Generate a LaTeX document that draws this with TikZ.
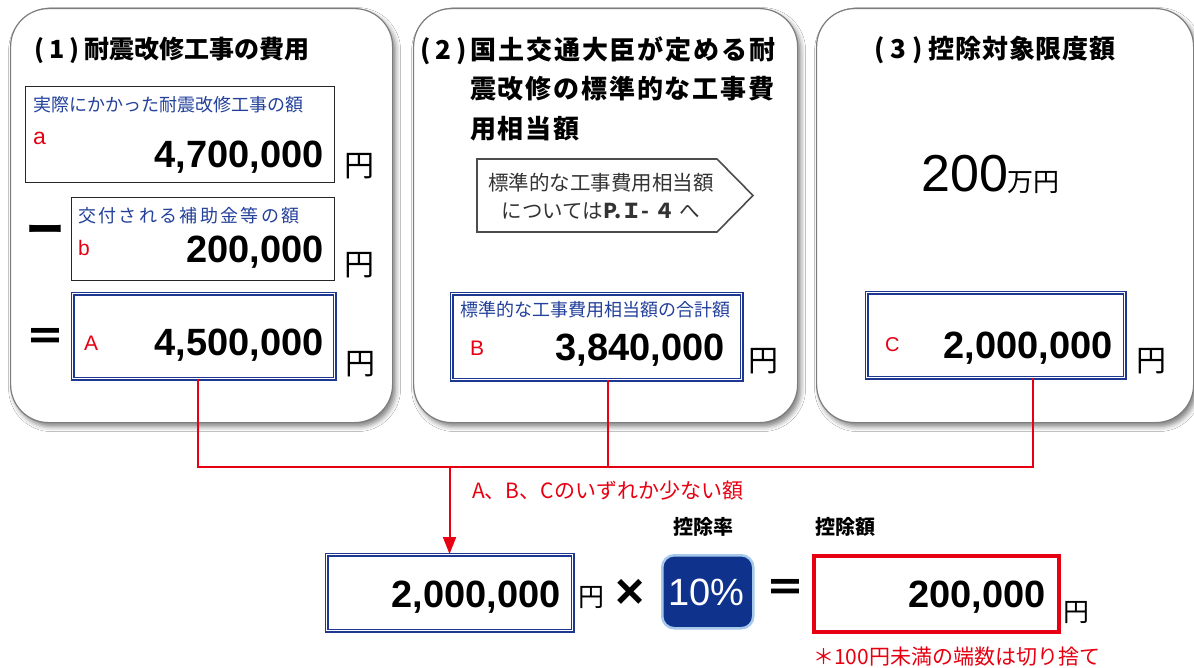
\documentclass[tikz,border=0pt]{standalone}
\usepackage{fontspec}
\setmainfont{Liberation Sans}
\newfontfamily\jp{Noto Sans CJK JP}
\usetikzlibrary{arrows.meta,shadows.blur,calc}
\definecolor{jblue}{RGB}{35,65,155}
\definecolor{bblue}{RGB}{30,55,145}
\definecolor{jred}{RGB}{230,0,18}
\definecolor{navy}{RGB}{15,50,140}
\definecolor{lblue}{RGB}{165,200,235}
\definecolor{pgray}{RGB}{125,125,125}
\newcommand{\fs}[1]{\fontsize{#1}{#1}\selectfont}
\tikzset{
  panel/.style={draw=pgray, line width=1.2, fill=white, rounded corners=38, anchor=north west, inner sep=0,
     blur shadow={shadow xshift=3pt, shadow yshift=-4pt, shadow blur radius=5pt, shadow opacity=50}},
  sbox/.style={draw=black!85, line width=1, inner sep=0, anchor=north west, fill=white},
  dbox/.style={draw=bblue, double=white, double distance=1.8, line width=1.1, inner sep=0, anchor=north west},
  lab/.style={inner sep=0, text=jblue, anchor=west, font=\jp\fs{18}, text height=13, text depth=2},
  rl/.style={inner sep=0, text=jred, anchor=base west, font=\fs{21}, text height=15, text depth=0},
  num/.style={inner sep=0, anchor=base east, font=\bfseries\fs{38}, text height=28, text depth=3},
  yen/.style={inner sep=0, anchor=center, font=\jp\fs{30}},
  ttl/.style={inner sep=0, anchor=west, font=\jp\bfseries\fs{25}},
  conn/.style={draw=jred, line width=2},
}
\begin{document}
\begin{tikzpicture}[x=1pt,y=-1pt]
\useasboundingbox[fill=white] (0,0) rectangle (1194,668);
% panels
\node[panel, minimum width=382, minimum height=414] (p1) at (10,8) {};
\node[panel, minimum width=384, minimum height=414] (p2) at (413,8) {};
\node[panel, minimum width=377, minimum height=414] (p3) at (816,8) {};
% ---- panel 1
\node[ttl] (t1) at (34,50) {(\hspace{5pt}1\hspace{5pt})\hspace{5pt}耐震改修工事の費用};
\node[sbox, minimum width=309, minimum height=96] (ba) at (24.5,86.5) {};
\node[lab] (la) at (33,106) {実際にかかった耐震改修工事の額};
\node[rl, font=\fs{23}] (ra) at (33,145) {a};
\node[num] (na) at (324,168) {4,700,000};
\node[yen] (ya) at (359,166) {円};
\node[inner sep=0, font=\jp\bfseries\fs{38}] (minus) at (45,234) {ー};
\node[sbox, minimum width=263, minimum height=83] (bb) at (70.5,197.5) {};
\node[lab, font=\jp\fs{18}\addfontfeature{LetterSpace=13}] (lb) at (78,217) {交付される補助金等の額};
\node[rl] (rb) at (78,256) {b};
\node[num] (nb) at (324,263) {200,000};
\node[yen] (yb) at (359,265) {円};
\node[inner sep=0, font=\jp\bfseries\fs{40}] (eq1) at (45,340) {＝};
\node[dbox, minimum width=262, minimum height=85] (bA) at (72,293) {};
\node[rl] (rA) at (84,350) {A};
\node[num] (nA) at (324,355) {4,500,000};
\node[yen] (yA) at (360,364) {円};
% ---- panel 2
\node[ttl, font=\jp\bfseries\fs{26}\addfontfeature{LetterSpace=7}] (t2a) at (420,51) {(\hspace{5pt}2\hspace{5pt})\hspace{4pt}国土交通大臣が定める耐};
\node[ttl, font=\jp\bfseries\fs{26}\addfontfeature{LetterSpace=7}] (t2b) at (470,89) {震改修の標準的な工事費};
\node[ttl, font=\jp\bfseries\fs{26}\addfontfeature{LetterSpace=7}] (t2c) at (470,129) {用相当額};
\draw[draw=black!70, line width=1.6, fill=white] (477,159) -- (717,159) -- (753,195.5) -- (717,232) -- (477,232) -- cycle;
\node[inner sep=0, font=\jp\fs{20.5}, text=black!80] (ref1) at (601,183) {標準的な工事費用相当額};
\node[inner sep=0, font=\jp\fs{20.5}, text=black!80] (ref2) at (601,211) {については\textbf{P.Ｉ- ４} へ};
\node[dbox, minimum width=290, minimum height=86] (bB) at (451,293) {};
\node[lab] (lB) at (460,311) {標準的な工事費用相当額の合計額};
\node[rl] (rB) at (470,355) {B};
\node[num] (nB) at (725,360) {3,840,000};
\node[yen] (yB) at (763,361) {円};
% ---- panel 3
\node[ttl, font=\jp\bfseries\fs{26}\addfontfeature{LetterSpace=3}] (t3) at (874,50) {(\hspace{6pt}3\hspace{6pt})\hspace{6pt}控除対象限度額};
\node[inner sep=0, anchor=base west, font=\fs{52}] (n200) at (921,192) {200};
\node[inner sep=0, anchor=base west, font=\jp\fs{26}] (man) at (1007,192) {万円};
\node[dbox, minimum width=258, minimum height=85] (bC) at (866,292) {};
\node[rl, font=\fs{20}] (rC) at (885,352) {C};
\node[num] (nC) at (1113,358) {2,000,000};
\node[yen] (yC) at (1151,361) {円};
% ---- bottom
\node[dbox, minimum width=246, minimum height=76] (bR) at (326,554) {};
\node[num] (nR) at (561,607) {2,000,000};
\node[yen, font=\jp\fs{26}] (yR) at (591,598) {円};
\node[inner sep=0, font=\bfseries\fs{50}] (times) at (630,594) {×};
\node[draw=lblue, line width=2.5, fill=navy, rounded corners=12, inner sep=0, anchor=north west,
      minimum width=91, minimum height=73] (rate) at (661,554) {};
\node[inner sep=0, anchor=base, text=white, font=\fs{38}] (pct) at (706.5,605) {10\%};
\node[inner sep=0, font=\jp\bfseries\fs{20}] (lrate) at (703,527) {控除率};
\node[inner sep=0, font=\jp\bfseries\fs{40}] (eq2) at (785,591) {＝};
\node[inner sep=0, font=\jp\bfseries\fs{20}] (lded) at (845,527) {控除額};
\node[draw=jred, line width=4, inner sep=0, anchor=north west, minimum width=245, minimum height=76] (bD) at (812,554) {};
\node[num] (nD) at (1046,607) {200,000};
\node[yen, font=\jp\fs{26}] (yD) at (1076,613) {円};
\node[inner sep=0, anchor=west, text=jred, font=\jp\fs{21}] (note) at (813,657) {＊100円未満の端数は切り捨て};
% ---- connectors
\coordinate (hl) at (197,467);
\draw[conn] ([xshift=-6]bA.south) -- ([xshift=-6]bA.south |- hl) -- ([xshift=37]bC.south |- hl) -- ([xshift=37]bC.south);
\draw[conn] ([xshift=11]bB.south) -- ([xshift=11]bB.south |- hl);
\draw[conn, -{Triangle[length=17,width=13]}] (bR.north |- hl) -- (bR.north);
\node[inner sep=0, anchor=west, text=jred, font=\jp\fs{21}] (minlab) at (472,491) {A、B、Cのいずれか少ない額};
\end{tikzpicture}
\end{document}
